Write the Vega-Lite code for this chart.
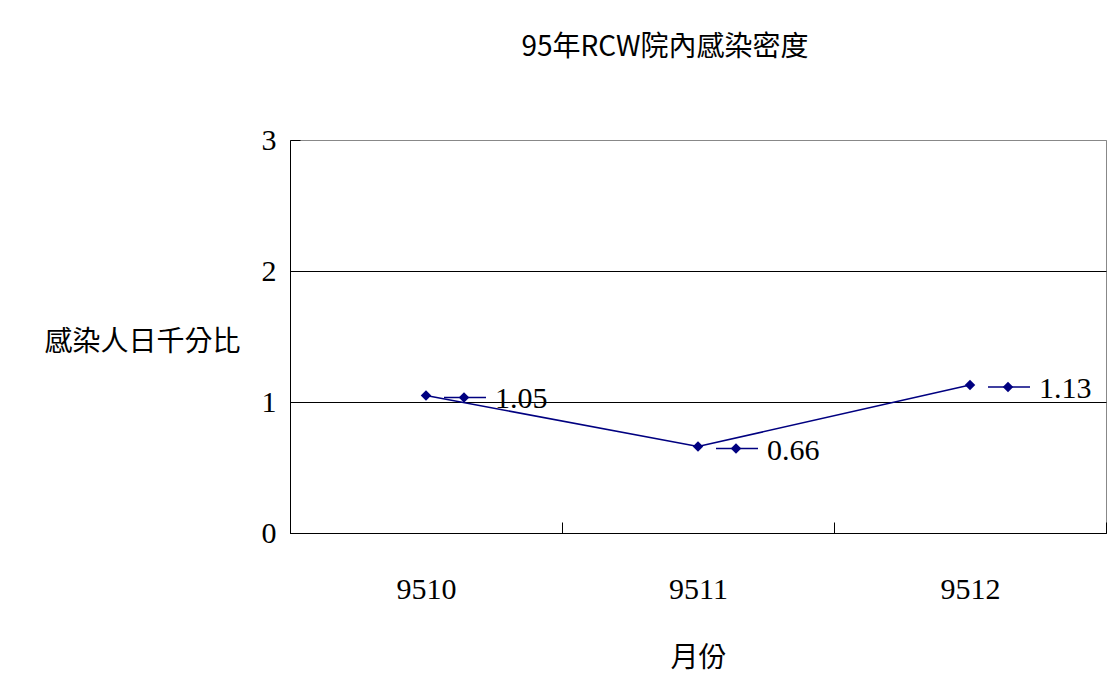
{
  "$schema": "https://vega.github.io/schema/vega-lite/v6.json",
  "width": 816,
  "height": 393,
  "autosize": "none",
  "padding": {"left": 290, "top": 140, "right": 4, "bottom": 160},
  "background": "white",
  "config": {"view": {"stroke": "#888888", "strokeWidth": 1}, "font": "Liberation Serif"},
  "title": {"text": "95年RCW院內感染密度", "font": "Noto Sans CJK TC", "fontSize": 28, "fontWeight": "normal", "color": "black", "anchor": "middle", "offset": 63, "dx": -33},
  "data": {"values": [
    {"month": "9510", "rate": 1.05},
    {"month": "9511", "rate": 0.66},
    {"month": "9512", "rate": 1.13}
  ]},
  "encoding": {
    "x": {"field": "month", "type": "ordinal", "scale": {"paddingInner": 0, "paddingOuter": 0},
      "axis": {"title": "月份", "titleFont": "Noto Sans CJK TC", "titleFontSize": 28, "titleFontWeight": "normal", "titleColor": "black", "titlePadding": 40,
        "labelAngle": 0, "labelFontSize": 30, "labelColor": "black", "labelFont": "Liberation Serif", "labelPadding": 52,
        "tickBand": "extent", "tickSize": -11, "tickColor": "black", "domainColor": "black", "grid": false}},
    "y": {"field": "rate", "type": "quantitative", "scale": {"domain": [0, 3], "nice": false},
      "axis": {"title": "感染人日千分比", "titleFont": "Noto Sans CJK TC", "titleFontSize": 28, "titleFontWeight": "normal", "titleColor": "black",
        "titleAngle": 0, "titleX": -50, "titleY": 202, "titleAlign": "right", "titleBaseline": "middle",
        "values": [0, 1, 2, 3], "labelFontSize": 30, "labelColor": "black", "labelFont": "Liberation Serif", "labelPadding": 24,
        "tickSize": -10, "tickColor": "black", "domainColor": "black",
        "grid": true, "gridColor": {"condition": {"test": "datum.value === 3", "value": "#888888"}, "value": "black"}}}
  },
  "layer": [
    {"mark": {"type": "line", "color": "#000080", "strokeWidth": 1.6}},
    {"mark": {"type": "point", "shape": "diamond", "filled": true, "color": "#000080", "size": 110, "opacity": 1}},
    {"mark": {"type": "rule", "color": "#000080", "strokeWidth": 1.6, "xOffset": 18, "x2Offset": 60, "yOffset": 2},
      "encoding": {"x2": {"field": "month"}}},
    {"mark": {"type": "point", "shape": "diamond", "filled": true, "color": "#000080", "size": 110, "opacity": 1, "xOffset": 38, "yOffset": 2}},
    {"mark": {"type": "text", "align": "left", "baseline": "middle", "xOffset": 69, "yOffset": 4, "fontSize": 30, "font": "Liberation Serif", "color": "black"},
      "encoding": {"text": {"field": "rate", "type": "quantitative", "format": ".2f"}}}
  ]
}
